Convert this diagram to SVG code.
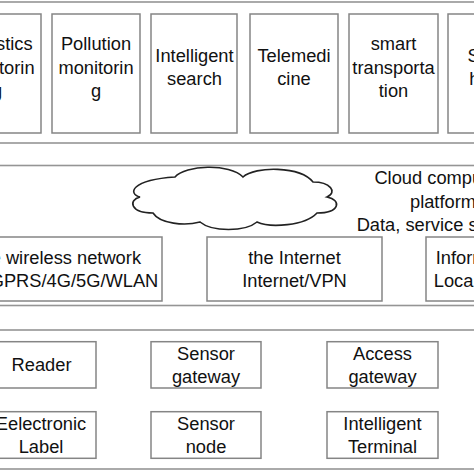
<svg xmlns="http://www.w3.org/2000/svg" width="474" height="474" viewBox="0 0 474 474">
<style>
.layer{fill:#fff;stroke:#959595;stroke-width:1.6}
.box{fill:#fff;stroke:#858585;stroke-width:1.5}
.t{font-family:"Liberation Sans",Arial,sans-serif;font-size:18.3px;fill:#111;text-anchor:middle}
.cloud{fill:#fff;stroke:#222;stroke-width:1.6}
</style>
<rect width="474" height="474" fill="#fff"/>
<g id="layers">
<rect class="layer" x="-20" y="2" width="514" height="141"/>
<rect class="layer" x="-20" y="165.5" width="514" height="140"/>
<rect class="layer" x="-20" y="330" width="514" height="139"/>
</g>
<g id="connectors"></g>
<g id="app1"><rect class="box" x="-47" y="14" width="88" height="119"/><text class="t"><tspan x="-3" y="50">Logistics</tspan><tspan x="-3" y="73.5">monitorin</tspan><tspan x="-3" y="97">g</tspan></text></g>
<g id="app2"><rect class="box" x="52" y="14" width="88" height="119"/><text class="t"><tspan x="96" y="50">Pollution</tspan><tspan x="96" y="73.5">monitorin</tspan><tspan x="96" y="97">g</tspan></text></g>
<g id="app3"><rect class="box" x="151" y="14" width="86" height="119"/><text class="t"><tspan x="194.5" y="61.5">Intelligent</tspan><tspan x="194.5" y="85">search</tspan></text></g>
<g id="app4"><rect class="box" x="250" y="14" width="88" height="119"/><text class="t"><tspan x="294" y="61.5">Telemedi</tspan><tspan x="294" y="85">cine</tspan></text></g>
<g id="app5"><rect class="box" x="349" y="14" width="89" height="119"/><text class="t"><tspan x="393.5" y="50">smart</tspan><tspan x="393.5" y="73.5">transporta</tspan><tspan x="393.5" y="97">tion</tspan></text></g>
<g id="app6"><rect class="box" x="448" y="14" width="88" height="119"/><text class="t"><tspan x="492" y="61.5">Smart</tspan><tspan x="492" y="85">home</tspan></text></g>
<g id="cloud">
<path class="cloud" d="M175,177 C185,165 230,163 243,177 C255,166 300,166 313,182 C330,182 338,192 327,197 C342,200 340,213 317,213 C305,226 270,228 257,222 C245,232 212,232 200,222 C185,226 160,224 153,213 C130,213 128,200 140,197 C128,194 130,180 175,177 Z"/>
<text class="t"><tspan x="443" y="184">Cloud computing</tspan><tspan x="443" y="207.5">platform</tspan><tspan x="443" y="231">Data, service support</tspan></text>
</g>
<g id="net1"><rect class="box" x="-13" y="237" width="175" height="64"/><text class="t"><tspan x="44" y="263.5">Mobile wireless network</tspan><tspan x="74" y="287">GPRS/4G/5G/WLAN</tspan></text></g>
<g id="net2"><rect class="box" x="207" y="237" width="175" height="64"/><text class="t"><tspan x="294.5" y="263.5">the Internet</tspan><tspan x="294.5" y="287">Internet/VPN</tspan></text></g>
<g id="net3"><rect class="box" x="426" y="237" width="175" height="64"/><text class="t"><tspan x="516" y="263.5">Information network</tspan><tspan x="511" y="287">Local area network</tspan></text></g>
<g id="reader"><rect class="box" x="-14" y="341.7" width="110" height="46.3"/><text class="t" x="41.5" y="371">Reader</text></g>
<g id="sgw"><rect class="box" x="151" y="341.7" width="110" height="46.3"/><text class="t"><tspan x="206" y="359.5">Sensor</tspan><tspan x="206" y="383">gateway</tspan></text></g>
<g id="agw"><rect class="box" x="327" y="341.7" width="111" height="46.3"/><text class="t"><tspan x="382.5" y="359.5">Access</tspan><tspan x="382.5" y="383">gateway</tspan></text></g>
<g id="label"><rect class="box" x="-14" y="411.7" width="110" height="46.6"/><text class="t"><tspan x="41" y="429.5">Eelectronic</tspan><tspan x="41" y="453">Label</tspan></text></g>
<g id="snode"><rect class="box" x="151" y="411.7" width="110" height="46.6"/><text class="t"><tspan x="206" y="429.5">Sensor</tspan><tspan x="206" y="453">node</tspan></text></g>
<g id="term"><rect class="box" x="327" y="411.7" width="111" height="46.6"/><text class="t"><tspan x="382.5" y="429.5">Intelligent</tspan><tspan x="382.5" y="453">Terminal</tspan></text></g>
</svg>
